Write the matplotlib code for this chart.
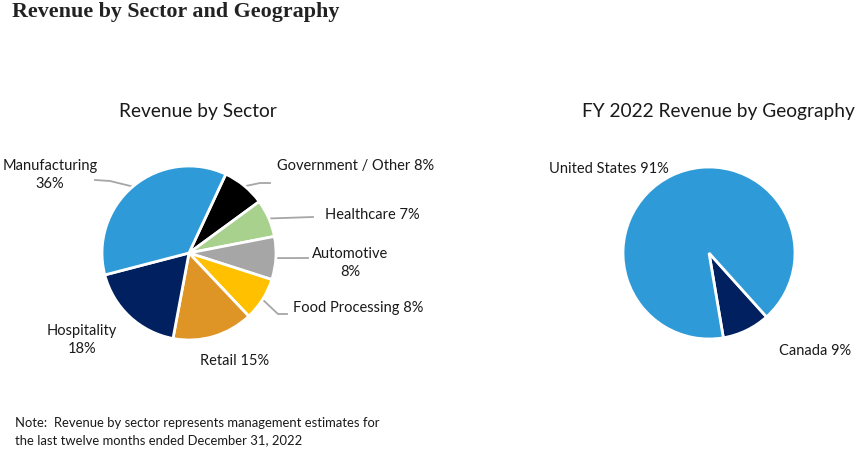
import matplotlib
matplotlib.use("Agg")
import matplotlib.pyplot as plt
import numpy as np

# data
sector_labels = ["Government / Other 8%", "Healthcare 7%", "Automotive\n8%",
                 "Food Processing 8%", "Retail 15%", "Hospitality\n18%",
                 "Manufacturing\n36%"]
sector_values = [8, 7, 8, 8, 15, 18, 36]
sector_colors = ["#000000", "#A9D18E", "#A6A6A6", "#FFC000",
                 "#DF9426", "#002060", "#2E9AD8"]

geo_labels = ["Canada 9%", "United States 91%"]
geo_values = [9, 91]
geo_colors = ["#002060", "#2E9AD8"]

W, H = 856, 450
plt.rcParams['font.family'] = ['Lato', 'DejaVu Sans']
fig = plt.figure(figsize=(W / 100, H / 100), dpi=100)
fig.patch.set_facecolor("white")


def make_axes(cx, cy, r):
    ax = fig.add_axes([(cx - r) / W, (H - cy - r) / H, 2 * r / W, 2 * r / H])
    ax.axis("off")
    return ax


def fix_limits(ax):
    ax.set_xlim(-1, 1)
    ax.set_ylim(-1, 1)


def to_data(x, y, cx, cy, r):
    return (x - cx) / r, (cy - y) / r


LEAD = "#A6A6A6"
TXT = "#1a1a1a"
FS = 10.5

# --- sector pie
c1 = (189, 253, 87)
ax1 = make_axes(*c1)
wedges, _ = ax1.pie(sector_values, colors=sector_colors, startangle=65,
                    counterclock=False, radius=1,
                    wedgeprops=dict(edgecolor="white", linewidth=2))
fix_limits(ax1)

# layout for labels: (text pos px, ha, leader points px)
sector_layout = [
    ((277, 166), "left", [(260, 183), (270, 183)]),
    ((325, 215), "left", [(313, 217)]),
    ((350, 263), "center", [(308, 258)]),
    ((293, 308), "left", [(278, 314), (287, 314)]),
    ((235, 361), "center", None),
    ((82, 340), "center", None),
    ((50, 175), "center", [(110, 181), (95, 180)]),
]
for w, lab, (pos, ha, lead) in zip(wedges, sector_labels, sector_layout):
    tx, ty = to_data(pos[0], pos[1], *c1)
    ax1.text(tx, ty, lab, ha=ha, va="center", fontsize=FS, color=TXT,
             linespacing=1.45)
    if lead:
        mid = np.deg2rad((w.theta1 + w.theta2) / 2)
        xs = [np.cos(mid) * 0.99]
        ys = [np.sin(mid) * 0.99]
        for p in lead:
            dx, dy = to_data(p[0], p[1], *c1)
            xs.append(dx)
            ys.append(dy)
        ax1.plot(xs, ys, color=LEAD, lw=1.3, clip_on=False, zorder=0)

# --- geography pie
c2 = (709, 253, 86)
ax2 = make_axes(*c2)
ax2.pie(geo_values, colors=geo_colors, startangle=-48, counterclock=False,
        radius=1, wedgeprops=dict(edgecolor="white", linewidth=2))
fix_limits(ax2)
geo_layout = [(779, 351), (549, 169)]
for lab, pos in zip(geo_labels, geo_layout):
    tx, ty = to_data(pos[0], pos[1], *c2)
    ax2.text(tx, ty, lab, ha="left", va="center", fontsize=FS, color=TXT)

# titles
fig.text(12 / W, 1 - 12 / H, "Revenue by Sector and Geography",
         family="Liberation Serif", fontweight="bold", fontsize=15.8,
         color="#222222", ha="left", va="center")
fig.text(198 / W, 1 - 111 / H, "Revenue by Sector", fontsize=13.8,
         color=TXT, ha="center", va="center")
fig.text(718 / W, 1 - 111 / H, "FY 2022 Revenue by Geography", fontsize=13.8,
         color=TXT, ha="center", va="center")

fig.text(15 / W, 1 - 423 / H,
         "Note:  Revenue by sector represents management estimates for",
         fontsize=9.4, color=TXT, ha="left", va="center")
fig.text(15 / W, 1 - 440 / H,
         "the last twelve months ended December 31, 2022",
         fontsize=9.4, color=TXT, ha="left", va="center")

fig.savefig("out.png", dpi=100, facecolor="white")
